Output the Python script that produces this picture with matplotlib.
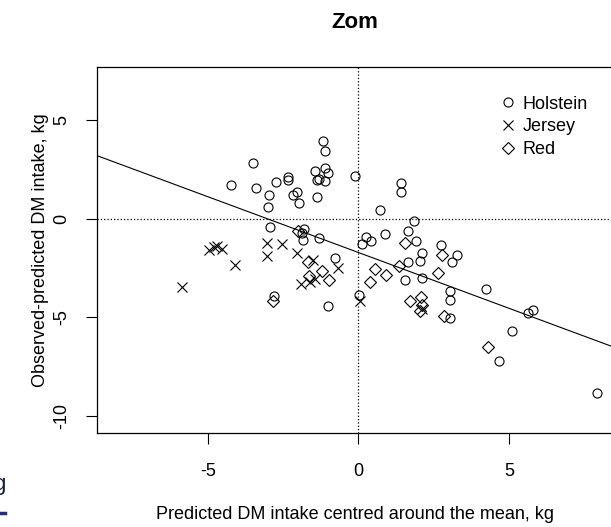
import matplotlib
matplotlib.use('Agg')
import matplotlib.pyplot as plt
from matplotlib.lines import Line2D

plt.rcParams['font.family'] = ['Liberation Sans', 'DejaVu Sans']
plt.rcParams['axes.unicode_minus'] = False

# dados
holstein_x = [-1.16, -1.12, -3.49, -4.22, -3.41, -2.74, -2.34, -2.34, -2.97, -3.01,
              -2.04, -2.16, -1.96, -1.37, -1.43, -1.12, -1.02, -1.38, -1.30, -1.09,
              -0.12, -2.93, -1.82, -1.88, -1.84, -1.32, -0.77, -2.79, -1.01, 0.01,
              1.41, 1.41, 0.71, 1.84, 0.24, 0.12, 0.43, 0.90, 1.66, 1.93,
              2.74, 2.12, 2.04, 1.66, 3.27, 3.10, 1.54, 2.12, 3.04, 3.04,
              3.04, 4.23, 5.62, 5.81, 5.10, 4.68, 7.92]
holstein_y = [3.96, 3.42, 2.83, 1.68, 1.57, 1.88, 2.10, 1.98, 1.20, 0.61,
              1.34, 1.20, 0.78, 1.10, 2.39, 2.57, 2.30, 1.96, 2.02, 1.93,
              2.17, -0.44, -0.52, -0.74, -1.07, -0.98, -2.01, -3.94, -4.42, -3.86,
              1.79, 1.34, 0.44, -0.12, -0.93, -1.30, -1.13, -0.76, -0.64, -1.13,
              -1.36, -1.74, -2.17, -2.22, -1.84, -2.22, -3.10, -3.04, -3.70, -4.12,
              -5.06, -3.57, -4.80, -4.64, -5.72, -7.21, -8.87]

jersey_x = [-4.97, -4.80, -4.71, -4.54, -4.10, -5.84, -3.02, -2.55, -3.02, -2.02,
            -1.51, -0.68, -1.91, -1.60, -1.45, 0.04, 2.10]
jersey_y = [-1.62, -1.46, -1.37, -1.54, -2.35, -3.49, -1.24, -1.27, -1.91, -1.77,
            -2.09, -2.51, -3.32, -3.23, -3.06, -4.16, -4.57]

red_x = [-1.99, -2.82, -1.66, -1.21, -1.64, -0.96, 1.55, 2.77, 0.57, 0.93,
         0.38, 1.34, 2.64, 1.72, 2.08, 2.11, 2.05, 2.83, 4.32]
red_y = [-0.61, -4.16, -2.22, -2.64, -2.89, -3.13, -1.25, -1.84, -2.55, -2.87,
         -3.22, -2.43, -2.78, -4.20, -3.96, -4.40, -4.68, -4.94, -6.53]

# reta de regressao
intercepto = -1.72
inclinacao = -0.566

fig = plt.figure(figsize=(6.11, 5.27), dpi=100)
ax = fig.add_axes([97 / 611, (527 - 433) / 527, 516 / 611, 366 / 527])

estilo = dict(linestyle='none', color='black', markerfacecolor='none', markeredgewidth=0.8)
ax.plot(holstein_x, holstein_y, marker='o', markersize=6.5, label='Holstein', **estilo)
ax.plot(jersey_x, jersey_y, marker='x', markersize=7, label='Jersey', **estilo)
ax.plot(red_x, red_y, marker='D', markersize=6.5, label='Red', **estilo)

ax.axline((0, intercepto), slope=inclinacao, color='black', linewidth=0.8)
ax.axhline(0, color='black', linestyle=':', linewidth=0.9)
ax.axvline(0, color='black', linestyle=':', linewidth=0.9)

ax.set_xlim(-8.68, 8.46)
ax.set_ylim(-10.88, 7.69)
ax.set_xticks([-5, 0, 5])
ax.set_yticks([-10, -5, 0, 5])
ax.tick_params(length=8, width=0.8, labelsize=13)
ax.tick_params(axis='x', pad=13.5)
ax.tick_params(axis='y', pad=11)
for lbl in ax.get_yticklabels():
    lbl.set_rotation(90)
    lbl.set_va('center')
for s in ax.spines.values():
    s.set_linewidth(0.9)

ax.set_title('Zom', fontsize=16, fontweight='bold', pad=28)
ax.set_xlabel('Predicted DM intake centred around the mean, kg', fontsize=13, labelpad=19)
ax.set_ylabel('Observed-predicted DM intake, kg', fontsize=13, labelpad=3)

ax.legend(loc='upper left', bbox_to_anchor=(0.779, 0.922), frameon=False, fontsize=13,
          borderpad=0, borderaxespad=0, handlelength=1.0, handletextpad=0.33,
          labelspacing=0.32)

# resto de outra figura cortada no canto
fig.text(-0.011, 0.07, 'g', fontsize=16, color='#1a1a40')
fig.add_artist(Line2D([0, 0.009], [0.027, 0.027], color='#2a2a80', linewidth=2.5))

fig.savefig('out.png', dpi=100)
